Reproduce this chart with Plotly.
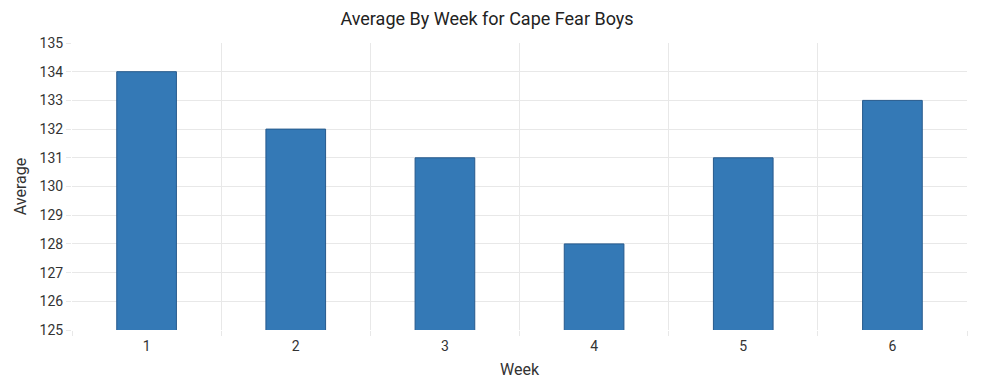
import plotly.graph_objects as go

weeks = ["1", "2", "3", "4", "5", "6"]
averages = [134, 132, 131, 128, 131, 133]
y_ticks = list(range(125, 136))

grid = "#e8e8e8"
fig = go.Figure(go.Bar(
    x=weeks, y=averages, width=0.4,
    marker=dict(color="#3479b6", line=dict(color="#26598c", width=1)),
))
fig.update_layout(
    width=1000, height=385,
    margin=dict(l=61, r=41, t=35, b=63),
    paper_bgcolor="white", plot_bgcolor="white",
    font=dict(family="Roboto", size=14, color="#333333"),
    title=dict(text="Average By Week for Cape Fear Boys", x=0.479, xanchor="center",
               y=0.973, yanchor="middle", font=dict(size=18, color="#222222")),
    showlegend=False, bargap=0.6,
)
fig.update_xaxes(
    type="category", tickson="boundaries", showgrid=True, gridcolor=grid, gridwidth=1,
    ticks="outside", ticklen=5, tickcolor=grid, showline=False, zeroline=False,
    ticklabelstandoff=6,
    title=dict(text="Week", font=dict(size=16), standoff=10),
)
fig.update_yaxes(
    range=[125, 135], tickvals=y_ticks, showgrid=True, gridcolor=grid, gridwidth=1,
    ticks="outside", ticklen=5, tickcolor=grid, showline=False, zeroline=False,
    title=dict(text="Average", font=dict(size=16), standoff=8),
)
fig.write_html("out.html")
